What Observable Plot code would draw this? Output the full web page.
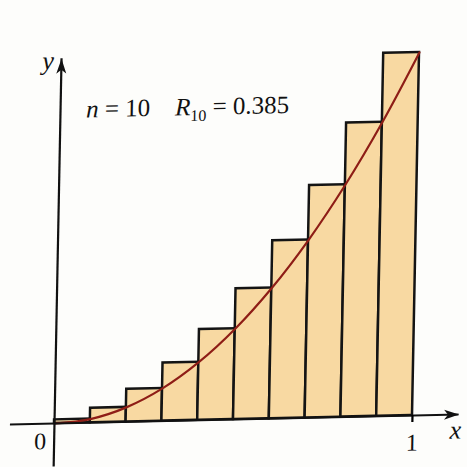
<!DOCTYPE html>
<html>
<head>
<meta charset="utf-8">
<script src="https://cdn.jsdelivr.net/npm/d3@7"></script>
<script src="https://cdn.jsdelivr.net/npm/@observablehq/plot@0.6"></script>
<style>
  html, body { margin: 0; padding: 0; background: #fdfdfb; }
  #chart svg {
    display: block;
    background: #fdfdfb;
    /* the printed figure sits slightly askew on the page */
    transform-origin: 54px 423px;
    transform: matrix(1, -0.0223, -0.0193, 1, 0, 0);
  }
  #chart svg text, #chart svg tspan { font-family: "Liberation Serif", "Times New Roman", serif !important; }
</style>
</head>
<body>
<div id="chart"></div>
<script>
// Right-endpoint Riemann sum of y = x² on [0, 1] with n = 10 rectangles
const barLeft  = [0.0, 0.1, 0.2, 0.3, 0.4, 0.5, 0.6, 0.7, 0.8, 0.9];
const barRight = [0.1, 0.2, 0.3, 0.4, 0.5, 0.6, 0.7, 0.8, 0.9, 1.0];
const barHeight = [0.01, 0.04, 0.09, 0.16, 0.25, 0.36, 0.49, 0.64, 0.81, 1.00];

// points of the curve y = x²
const curveX = [0, 0.1, 0.2, 0.3, 0.4, 0.5, 0.6, 0.7, 0.8, 0.9, 1.0];
const curveY = [0, 0.01, 0.04, 0.09, 0.16, 0.25, 0.36, 0.49, 0.64, 0.81, 1.00];

// axis extents (data units) and labelled ticks
const xAxisExtent = [-0.123, 1.13];
const yAxisExtent = [-0.12, 1.005];
const originLabel = ["0"];
const xTicks = [1];
const nValue = 10;
const sumValue = 0.385;

const bars = barHeight.map((h, i) => ({x1: barLeft[i], x2: barRight[i], y: h}));
const curve = curveX.map((x, i) => ({x, y: curveY[i]}));

// filled arrowhead pointing right, tip at the origin of the symbol
const arrowHead = {
  draw(ctx) {
    ctx.moveTo(0, 0);
    ctx.lineTo(-15, -5);
    ctx.lineTo(-11, 0);
    ctx.lineTo(-15, 5);
    ctx.closePath();
  }
};

const chart = Plot.plot({
  width: 467,
  height: 467,
  marginLeft: 54,
  marginRight: 55,
  marginTop: 60,
  marginBottom: 44,
  style: {background: "transparent", fontFamily: "Liberation Serif"},
  x: {domain: [0, 1], axis: null},
  y: {domain: [0, 1], axis: null},
  marks: [
    Plot.rectY(bars, {x1: "x1", x2: "x2", y: "y", fill: "#f8d9a2", stroke: "#141414", strokeWidth: 2.5}),
    Plot.line(curve, {x: "x", y: "y", curve: "catmull-rom", stroke: "#8e1d16", strokeWidth: 2.2}),
    Plot.ruleY([0], {x1: xAxisExtent[0], x2: xAxisExtent[1], stroke: "#111", strokeWidth: 2.2}),
    Plot.ruleX([0], {y1: yAxisExtent[0], y2: yAxisExtent[1], stroke: "#111", strokeWidth: 2.2}),
    Plot.dot([{x: xAxisExtent[1], y: 0}], {x: "x", y: "y", symbol: arrowHead, fill: "#111", stroke: "none"}),
    Plot.dot([{x: 0, y: yAxisExtent[1]}], {x: "x", y: "y", symbol: arrowHead, rotate: -90, fill: "#111", stroke: "none"}),
    Plot.axisX(xTicks, {tickSize: 7, strokeWidth: 2.2, tickFormat: d => String(d), tickPadding: 11, fontSize: 24, fill: "#111", anchor: "bottom", y: 0}),
    Plot.text(originLabel, {x: 0, y: 0, text: d => d, dx: -14, dy: 18, fontSize: 24, fill: "#111"}),
    Plot.text(["x"], {frameAnchor: "bottom-right", text: d => d, dx: 49, dy: 24, fontSize: 26, fontStyle: "italic", fill: "#111"}),
    Plot.text(["y"], {frameAnchor: "top-left", text: d => d, dx: -19, dy: -10, fontSize: 26, fontStyle: "italic", fill: "#111"})
  ]
});

// annotation: n = 10   R₁₀ = 0.385
const sx = chart.scale("x"), sy = chart.scale("y");
const label = d3.select(chart).append("text")
  .attr("x", sx.apply(0) + 26)
  .attr("y", sy.apply(1) + 58)
  .attr("text-anchor", "start")
  .attr("font-size", 25)
  .attr("fill", "#111");
label.append("tspan").attr("font-style", "italic").text("n");
label.append("tspan").text(` = ${nValue}`);
label.append("tspan").attr("dx", 25).attr("font-style", "italic").text("R");
label.append("tspan").attr("dy", 6).attr("font-size", 16).text(String(nValue));
label.append("tspan").attr("dy", -6).text(` = ${sumValue}`);

document.getElementById("chart").appendChild(chart);
</script>
</body>
</html>
